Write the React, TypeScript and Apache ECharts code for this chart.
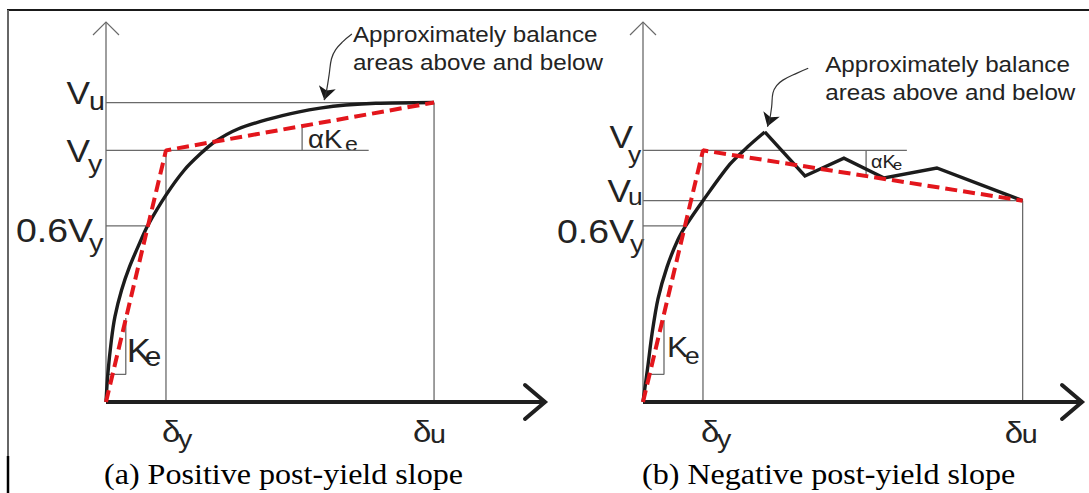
import { useEffect, useRef } from 'react';
import * as echarts from 'echarts';

// Axis extents: displacement in multiples of δy, force in multiples of Vy
const X_MAX = 7.32;
const Y_MAX = 1.51;

// ---- (a) positive post-yield slope ----
const aDeltaY = 1.0;
const aDeltaU = 5.47;
const aVy = 1.0;
const aVu = 1.19;
const aV06 = 0.7;
const aVyGuideEnd = 4.38;
const aCurve = [
  [0, 0], [0.03, 0.11], [0.09, 0.246], [0.15, 0.34], [0.26, 0.445], [0.39, 0.536],
  [0.58, 0.642], [0.7, 0.703], [1.0, 0.822], [1.3, 0.92], [1.57, 0.985], [1.82, 1.035],
  [2.2, 1.085], [2.73, 1.125], [3.2, 1.152], [3.57, 1.168], [4.0, 1.18], [4.5, 1.187], [5.47, 1.19],
];
const aBilinear = [[0, 0], [aDeltaY, aVy], [aDeltaU, aVu]];
const aKeStep = [[0.05, 0.11], [0.33, 0.11], [0.33, 0.334]];
const aAlphaTick = [[3.27, 1.0], [3.27, 1.09]];
const aLeader = [
  [4.1, 1.462], [3.95, 1.432], [3.83, 1.4], [3.76, 1.364], [3.72, 1.3], [3.68, 1.24], [3.64, 1.2],
];

// ---- (b) negative post-yield slope ----
const bDeltaY = 1.0;
const bDeltaU = 6.33;
const bVy = 1.0;
const bVu = 0.8;
const bV06 = 0.7;
const bVyGuideEnd = 4.4;
const bCurveRise = [
  [0, 0], [0.04, 0.07], [0.08, 0.14], [0.15, 0.27], [0.25, 0.41], [0.4, 0.536],
  [0.58, 0.644], [0.72, 0.703], [1.0, 0.8], [1.45, 0.945], [1.75, 1.015], [2.03, 1.073],
];
const bCurveSaw = [[2.03, 1.073], [2.7, 0.898], [3.35, 0.969], [4.02, 0.89], [4.9, 0.93], [6.33, 0.8]];
const bBilinear = [[0, 0], [bDeltaY, bVy], [bDeltaU, bVu]];
const bKeStep = [[0.08, 0.11], [0.35, 0.11], [0.35, 0.326]];
const bAlphaTick = [[3.72, 1.0], [3.72, 0.895]];
const bLeader = [
  [2.755, 1.326], [2.56, 1.306], [2.333, 1.279], [2.228, 1.257], [2.167, 1.228], [2.145, 1.173], [2.11, 1.12], [2.075, 1.095],
];

const captions = ['(a) Positive post-yield slope', '(b) Negative post-yield slope'];
const noteLines = ['Approximately balance', 'areas above and below'];

type Pt = number[];
interface Panel {
  dy: number; du: number; vy: number; vu: number; v06: number; vyGuideEnd: number;
  curves: { pts: Pt[]; smooth: number }[];
  bilinear: Pt[]; keStep: Pt[]; alphaTick: Pt[]; leader: Pt[];
}

const panels: Panel[] = [
  {
    dy: aDeltaY, du: aDeltaU, vy: aVy, vu: aVu, v06: aV06, vyGuideEnd: aVyGuideEnd,
    curves: [{ pts: aCurve, smooth: 0.3 }],
    bilinear: aBilinear, keStep: aKeStep, alphaTick: aAlphaTick, leader: aLeader,
  },
  {
    dy: bDeltaY, du: bDeltaU, vy: bVy, vu: bVu, v06: bV06, vyGuideEnd: bVyGuideEnd,
    curves: [{ pts: bCurveRise, smooth: 0.3 }, { pts: bCurveSaw, smooth: 0 }],
    bilinear: bBilinear, keStep: bKeStep, alphaTick: bAlphaTick, leader: bLeader,
  },
];

const SANS = '"Liberation Sans", Arial, sans-serif';
const SERIF = '"Liberation Serif", "Times New Roman", serif';
const INK = '#232323';
const GUIDE = '#6a6a6a';

function panelSeries(g: number, p: Panel): any[] {
  const base = { xAxisIndex: g, yAxisIndex: g, silent: true, clip: false, symbol: 'none' };
  const guides: Pt[][] = [
    [[0, p.vu], [p.du, p.vu]],
    [[0, p.vy], [p.vyGuideEnd, p.vy]],
    [[0, p.v06], [(p.v06 * p.dy) / p.vy, p.v06]],
    [[p.dy, 0], [p.dy, p.vy]],
    [[p.du, 0], [p.du, p.vu]],
    [[0, 0], [0, Y_MAX]],
    p.keStep,
    p.alphaTick,
  ];
  const out: any[] = guides.map((c) => ({
    type: 'line', ...base, data: c, z: 1,
    lineStyle: { color: GUIDE, width: 1.3 },
  }));
  out.push({
    type: 'line', ...base, data: [[0, 0], [X_MAX, 0]], z: 2,
    lineStyle: { color: '#1f1f1f', width: 4 },
  });
  p.curves.forEach((c) => out.push({
    type: 'line', ...base, data: c.pts, smooth: c.smooth, z: 3,
    lineStyle: { color: '#1c1c1c', width: 3.4, join: 'miter' },
  }));
  out.push({
    type: 'line', ...base, data: p.bilinear, z: 4,
    lineStyle: { color: '#e3161c', width: 4, type: [12, 6] },
  });
  out.push({
    type: 'line', ...base, data: p.leader, smooth: 0.4, z: 5,
    lineStyle: { color: '#333', width: 1.2 },
  });
  const n = p.leader.length;
  out.push({
    type: 'lines', coordinateSystem: 'cartesian2d', xAxisIndex: g, yAxisIndex: g, silent: true, z: 5,
    symbol: ['none', 'arrow'], symbolSize: 13,
    data: [{ coords: [p.leader[n - 2], p.leader[n - 1]] }],
    lineStyle: { color: '#1a1a1a', width: 1.2, opacity: 1 },
  });
  return out;
}

function txt(text: string, x: number, base: number, size: number, o: any = {}) {
  const serif = o.family === 'serif';
  return {
    type: 'text', x, y: base - (serif ? 0.34 : 0.35) * size, scaleX: o.sx ?? (serif ? 1.07 : 1.1), silent: true,
    style: {
      text, fontSize: size, fontFamily: serif ? SERIF : SANS, fill: o.color ?? INK,
      align: o.align ?? 'left', verticalAlign: 'middle',
    },
  };
}

export default function App() {
  const ref = useRef<HTMLDivElement>(null);
  useEffect(() => {
    const chart = echarts.init(ref.current!, null, { renderer: 'svg' });
    const grids = [
      { left: 106, top: 22, width: 439, height: 380 },
      { left: 643, top: 22, width: 439, height: 380 },
    ];
    chart.setOption({
      animation: false,
      backgroundColor: '#ffffff',
      grid: grids,
      xAxis: grids.map((_, i) => ({ gridIndex: i, type: 'value', min: 0, max: X_MAX, show: false })),
      yAxis: grids.map((_, i) => ({ gridIndex: i, type: 'value', min: 0, max: Y_MAX, show: false })),
      series: panels.flatMap((p, g) => panelSeries(g, p)),
    });

    const px = (g: number, pt: Pt) => chart.convertToPixel({ gridIndex: g }, pt) as number[];
    const gfx: any[] = [
      { type: 'line', silent: true, shape: { x1: 7, y1: 10, x2: 1089, y2: 10 }, style: { stroke: '#1a1a1a', lineWidth: 2 } },
      { type: 'line', silent: true, shape: { x1: 8, y1: 10, x2: 8, y2: 456 }, style: { stroke: '#666', lineWidth: 2 } },
      { type: 'line', silent: true, shape: { x1: 8, y1: 456, x2: 8, y2: 493 }, style: { stroke: '#000', lineWidth: 2.5 } },
    ];

    panels.forEach((p, g) => {
      const xt = px(g, [X_MAX, 0]);
      gfx.push({
        type: 'polyline', silent: true,
        shape: { points: [[xt[0] - 20, xt[1] - 17], xt, [xt[0] - 20, xt[1] + 17]] },
        style: { stroke: '#1f1f1f', lineWidth: 4, fill: null, lineCap: 'round' },
      });
      const yt = px(g, [0, Y_MAX]);
      gfx.push({
        type: 'polyline', silent: true,
        shape: { points: [[yt[0] - 13, yt[1] + 13], yt, [yt[0] + 13, yt[1] + 13]] },
        style: { stroke: GUIDE, lineWidth: 1.2, fill: null },
      });
      const o = px(g, [0, 0]);
      gfx.push(txt(captions[g], o[0] - (g ? 1 : 2), o[1] + 82, 30, { family: 'serif', color: '#000' }));
      const s = px(g, p.leader[0]);
      gfx.push(txt(noteLines[0], s[0] + (g ? 17 : 1), s[1] + (g ? 4 : 8), 22));
      gfx.push(txt(noteLines[1], s[0] + (g ? 17 : 1), s[1] + (g ? 32 : 36), 22));
    });

    // (a) axis lettering
    {
      const u = px(0, [0, aVu]);
      gfx.push(txt('V', u[0] - 16, u[1] + 2, 32, { align: 'right' }), txt('u', u[0] - 17, u[1] + 8, 26));
      const y = px(0, [0, aVy]);
      gfx.push(txt('V', y[0] - 16, y[1] + 12, 32, { align: 'right' }), txt('y', y[0] - 18, y[1] + 23, 26));
      const s = px(0, [0, aV06]);
      gfx.push(txt('0.6V', s[0] - 13, s[1] + 17, 34, { align: 'right' }), txt('y', s[0] - 17, s[1] + 26, 26));
      const d0 = px(0, [aDeltaY, 0]);
      gfx.push(txt('δ', d0[0] - 4, d0[1] + 40, 30), txt('y', d0[0] + 12, d0[1] + 46, 26));
      const d1 = px(0, [aDeltaU, 0]);
      gfx.push(txt('δ', d1[0] - 21, d1[1] + 40, 30), txt('u', d1[0] - 4, d1[1] + 41, 26));
      const k = px(0, aKeStep[1]);
      gfx.push(txt('K', k[0] + 1, k[1] - 12, 33), txt('e', k[0] + 19, k[1] - 8, 27));
      const t = px(0, aAlphaTick[0]);
      gfx.push(txt('αK', t[0] + 6, t[1] - 2, 25), txt('e', t[0] + 43, t[1] + 1, 21));
    }
    // (b) axis lettering
    {
      const y = px(1, [0, bVy]);
      gfx.push(txt('V', y[0] - 10, y[1] - 2, 32, { align: 'right' }), txt('y', y[0] - 15, y[1] + 12, 24));
      const u = px(1, [0, bVu]);
      gfx.push(txt('V', u[0] - 12, u[1] + 1.5, 32, { align: 'right' }), txt('u', u[0] - 15, u[1] + 4.5, 24));
      const s = px(1, [0, bV06]);
      gfx.push(txt('0.6V', s[0] - 9, s[1] + 18, 34, { align: 'right' }), txt('y', s[0] - 13, s[1] + 27, 26));
      const d0 = px(1, [bDeltaY, 0]);
      gfx.push(txt('δ', d0[0] - 2, d0[1] + 40, 30), txt('y', d0[0] + 14, d0[1] + 46, 26));
      const d1 = px(1, [bDeltaU, 0]);
      gfx.push(txt('δ', d1[0] - 18, d1[1] + 41, 30), txt('u', d1[0] - 1, d1[1] + 41, 26));
      const k = px(1, bKeStep[1]);
      gfx.push(txt('K', k[0] + 3, k[1] - 18, 29), txt('e', k[0] + 21, k[1] - 10, 24));
      const t = px(1, bAlphaTick[0]);
      gfx.push(txt('αK', t[0] + 5, t[1] + 18, 18), txt('e', t[0] + 27, t[1] + 20, 15));
    }

    chart.setOption({ graphic: gfx });
    return () => chart.dispose();
  }, []);
  return (
    <div
      ref={ref}
      style={{ position: 'absolute', left: 0, top: 0, width: 1089, height: 493, background: '#fff' }}
    />
  );
}
